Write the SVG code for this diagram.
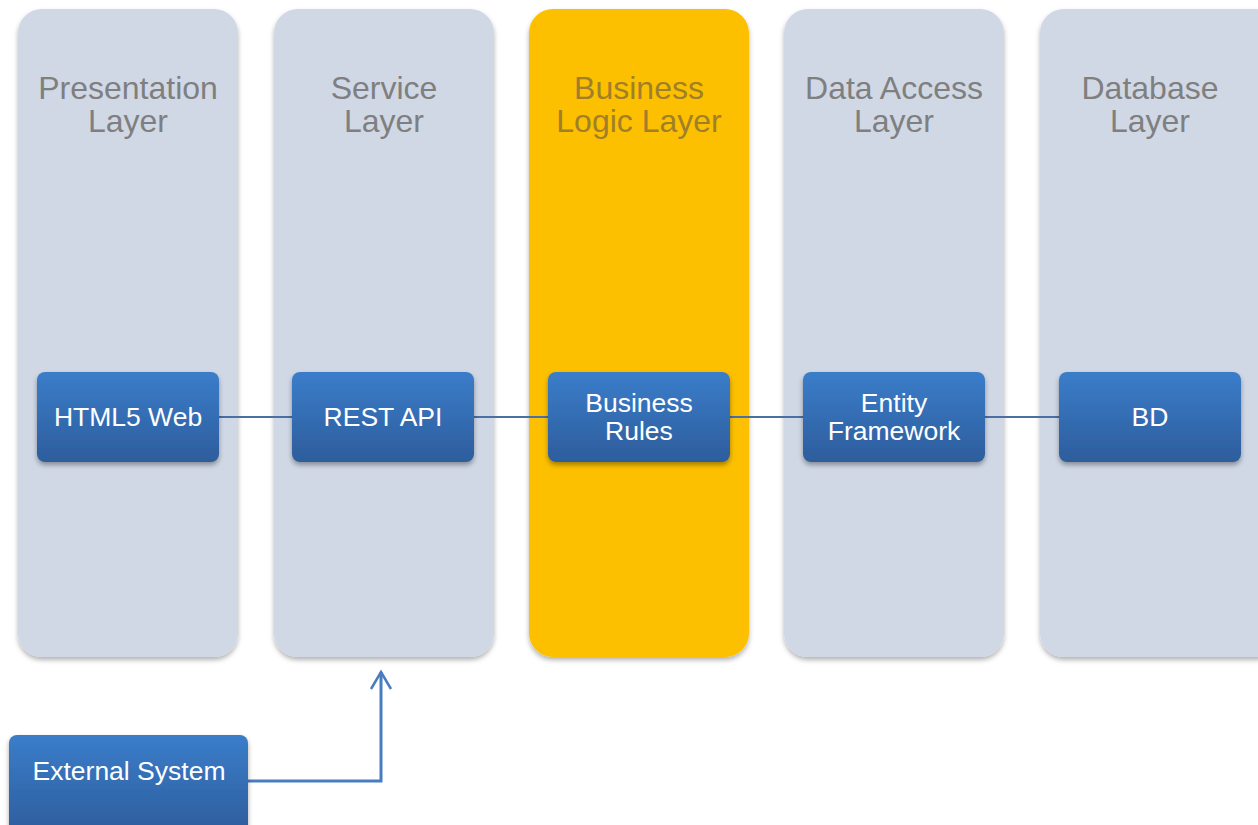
<svg xmlns="http://www.w3.org/2000/svg" width="1258" height="825" viewBox="0 0 1258 825">
<style>
.col{fill:#d0d8e6;filter:url(#sh)}
.colhi{fill:#fdc000;filter:url(#sh)}
.title{font-family:"Liberation Sans",Arial,sans-serif;font-size:32px;fill:#7f7f7f;text-anchor:middle}
.titlehi{font-family:"Liberation Sans",Arial,sans-serif;font-size:32px;fill:#a07f2a;text-anchor:middle}
.box{fill:url(#bg);filter:url(#sh2)}
.lbl{font-family:"Liberation Sans",Arial,sans-serif;font-size:26.5px;fill:#ffffff;text-anchor:middle}
.conn{stroke:#4a6fa3;stroke-width:2;fill:none}
.arr{stroke:#4a7cc0;stroke-width:3;fill:none}
</style>
<defs>
<linearGradient id="bg" x1="0" y1="0" x2="0" y2="1">
<stop offset="0" stop-color="#3b7dca"/>
<stop offset="1" stop-color="#2d5d9c"/>
</linearGradient>
<filter id="sh" x="-10%" y="-10%" width="120%" height="120%">
<feDropShadow dx="0" dy="3" stdDeviation="2.5" flood-color="#000" flood-opacity="0.3"/>
</filter>
<filter id="sh2" x="-10%" y="-10%" width="120%" height="130%">
<feDropShadow dx="0" dy="3" stdDeviation="2.5" flood-color="#000" flood-opacity="0.35"/>
</filter>
<marker id="oa" markerWidth="24" markerHeight="24" refX="19" refY="11" orient="auto" markerUnits="userSpaceOnUse" viewBox="0 0 24 22">
<path d="M2,1 L19,11 L2,21" stroke="#4a7cc0" stroke-width="2.5" fill="none"/>
</marker>
</defs>
<rect width="1258" height="825" fill="#ffffff"/>
<g id="col-presentation"><rect class="col" x="18" y="9" width="220" height="648" rx="24"/><text class="title" x="128" y="99">Presentation</text><text class="title" x="128" y="132">Layer</text></g>
<g id="col-service"><rect class="col" x="274" y="9" width="220" height="648" rx="24"/><text class="title" x="384" y="99">Service</text><text class="title" x="384" y="132">Layer</text></g>
<g id="col-business"><rect class="colhi" x="529" y="9" width="220" height="648" rx="24"/><text class="titlehi" x="639" y="99">Business</text><text class="titlehi" x="639" y="132">Logic Layer</text></g>
<g id="col-data"><rect class="col" x="784" y="9" width="220" height="648" rx="24"/><text class="title" x="894" y="99">Data Access</text><text class="title" x="894" y="132">Layer</text></g>
<g id="col-db"><rect class="col" x="1040" y="9" width="240" height="648" rx="24"/><text class="title" x="1150" y="99">Database</text><text class="title" x="1150" y="132">Layer</text></g>
<g id="connectors">
<line class="conn" x1="219" y1="417" x2="292" y2="417"/>
<line class="conn" x1="474" y1="417" x2="548" y2="417"/>
<line class="conn" x1="730" y1="417" x2="803" y2="417"/>
<line class="conn" x1="985" y1="417" x2="1059" y2="417"/>
<polyline class="arr" points="248,781 381,781 381,672" marker-end="url(#oa)"/>
</g>
<g id="n-html5"><rect class="box" x="37" y="372" width="182" height="90" rx="8"/><text class="lbl" x="128" y="426">HTML5 Web</text></g>
<g id="n-rest"><rect class="box" x="292" y="372" width="182" height="90" rx="8"/><text class="lbl" x="383" y="426">REST API</text></g>
<g id="n-rules"><rect class="box" x="548" y="372" width="182" height="90" rx="8"/><text class="lbl" x="639" y="412">Business</text><text class="lbl" x="639" y="440">Rules</text></g>
<g id="n-ef"><rect class="box" x="803" y="372" width="182" height="90" rx="8"/><text class="lbl" x="894" y="412">Entity</text><text class="lbl" x="894" y="440">Framework</text></g>
<g id="n-bd"><rect class="box" x="1059" y="372" width="182" height="90" rx="8"/><text class="lbl" x="1150" y="426">BD</text></g>
<g id="n-ext"><rect class="box" x="9" y="735" width="239" height="100" rx="8"/><text class="lbl" x="129" y="780">External System</text></g>
</svg>
